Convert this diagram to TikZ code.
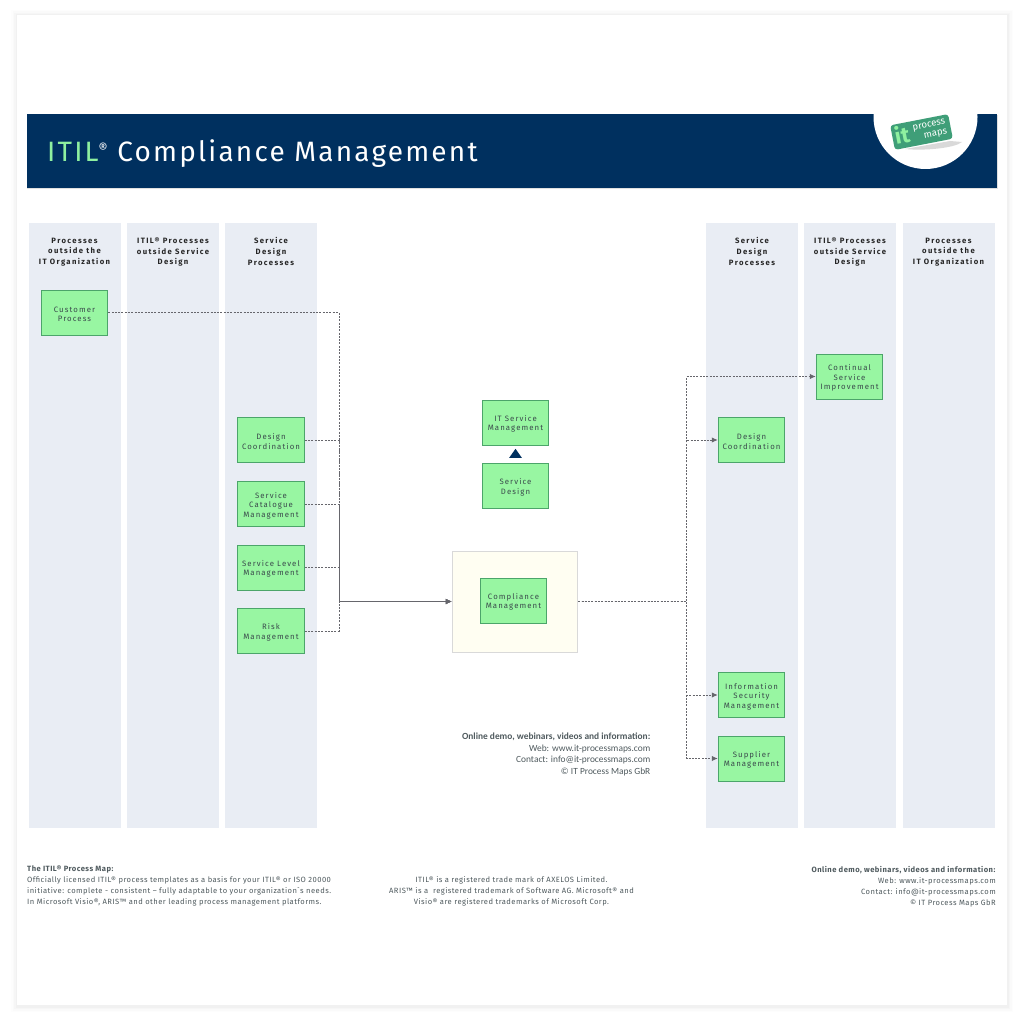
\documentclass[tikz,border=0pt]{standalone}
\usepackage{fontspec}
\setmainfont{Fira Sans}
\newfontfamily\titlef[LetterSpace=7.8]{Fira Sans}
\newfontfamily\bodyf[LetterSpace=14]{Fira Sans}
\newfontfamily\headf[LetterSpace=18]{Fira Sans}
\newfontfamily\footf[LetterSpace=6]{Fira Sans}
\newfontfamily\infof{Carlito}
\usetikzlibrary{arrows.meta,shapes.geometric}
\newcommand{\pdrop}{\rule{0pt}{9pt}}
\definecolor{navy}{HTML}{00305F}
\definecolor{lanec}{HTML}{E9EDF4}
\definecolor{procf}{HTML}{98F6A2}
\definecolor{procd}{HTML}{4CA56A}
\definecolor{textc}{HTML}{3A4A4C}
\definecolor{connc}{HTML}{66666C}
\definecolor{logog}{HTML}{3F9E78}
\definecolor{logot}{HTML}{8FF0A0}
\definecolor{footc}{HTML}{4F5A5E}
\tikzset{
  lane/.style={fill=lanec,draw=none,minimum width=92pt,minimum height=605pt,inner sep=0},
  lanehead/.style={font=\headf\bfseries\fontsize{7.7}{10.6}\selectfont,text=black!85,align=center,inner sep=0,anchor=north},
  proc/.style={rectangle,fill=procf,draw=procd,line width=1pt,minimum width=66.5pt,minimum height=45pt,inner sep=0,
    font=\bodyf\fontsize{7.8}{9.6}\selectfont,text=textc,align=center},
  conn/.style={draw=connc,line width=0.9pt,dash pattern=on 2pt off 1.3pt,-{Latex[length=6pt,width=5.5pt,fill=connc]}},
  foot/.style={font=\footf\fontsize{7.6}{11}\selectfont,text=footc,inner sep=0},
  info/.style={font=\infof\fontsize{9.4}{11.5}\selectfont,text=footc,inner sep=0,align=right,anchor=north east},
}
\begin{document}
\begin{tikzpicture}[x=1pt,y=-1pt]
\useasboundingbox (0,0) rectangle (1024,1024);
\fill[white] (0,0) rectangle (1024,1024);
% page card with soft shadow
\foreach \d/\o in {6/0.008,4.5/0.012,3/0.016,1.5/0.02}{
  \fill[black,opacity=\o] (17-\d,15-\d+1) rectangle (1007+\d,1005+\d+1);
}
\fill[white] (17,15) rectangle (1007,1005);
% banner
\fill[black,opacity=0.12] (27,115) rectangle (998,189);
\fill[navy] (27,114) rectangle (997,188);
\begin{scope}
  \clip (860,114) rectangle (990,188);
  \fill[white] (925.5,117) circle[radius=52];
\end{scope}
\node[anchor=base west,inner sep=0,font=\titlef\fontsize{28}{30}\selectfont,text=white] (title) at (47,162)
  {\textcolor{logot}{ITIL}\raisebox{8pt}{\fontsize{14}{14}\selectfont\textcolor{white}{®}} Compliance Management};
% logo
\fill[black!15] (905,149) -- (950,141) -- (962,142) .. controls (955,148) and (925,151) .. (905,149) -- cycle;
\node[rectangle,rounded corners=3pt,fill=logog,minimum width=59pt,minimum height=25pt,rotate=11,inner sep=0] (logobox) at (921.5,132) {};
\node[inner sep=0,rotate=11,font=\bfseries\fontsize{22}{22}\selectfont,text=logot] (logoit) at (902,135) {it};
\node[inner sep=0,rotate=11,font=\fontsize{9.5}{10}\selectfont,text=white,align=right] (logotxt) at (930,130.5) {process\\maps};
% lanes
\node[lane,anchor=north west] (l1) at (28.5,223) {};
\node[lane,anchor=north west] (l2) at (127,223) {};
\node[lane,anchor=north west] (l3) at (225,223) {};
\node[lane,anchor=north west] (r3) at (705.5,223) {};
\node[lane,anchor=north west] (r2) at (804,223) {};
\node[lane,anchor=north west] (r1) at (902.5,223) {};
\node[lanehead] (h1) at (74.5,237.5) {Processes\\outside the\\IT Organization};
\node[lanehead] (h2) at (173,237.5) {ITIL® Processes\\outside Service\\Design};
\node[lanehead] (h3) at (271,237.5) {Service\\Design\\Processes};
\node[lanehead] (h4) at (752,237.5) {Service\\Design\\Processes};
\node[lanehead] (h5) at (850,237.5) {ITIL® Processes\\outside Service\\Design};
\node[lanehead] (h6) at (948.5,237.5) {Processes\\outside the\\IT Organization};
% centre box
\node[rectangle,fill=yellow!5!white,draw=black!15,line width=1pt,minimum width=125.5pt,minimum height=101pt,inner sep=0] (cbox) at (515,601.5) {};
% process nodes
\node[proc] (cust) at (74.5,312.5) {\pdrop Customer\\Process};
\node[proc] (dc) at (271,440) {\pdrop Design\\Coordination};
\node[proc] (scm) at (271,504) {\pdrop Service\\Catalogue\\Management};
\node[proc] (slm) at (271,567.5) {\pdrop Service Level\\Management};
\node[proc] (risk) at (271,631) {\pdrop Risk\\Management};
\node[proc] (itsm) at (515.5,422.5) {\pdrop IT Service\\Management};
\node[proc] (sd) at (515.5,486) {\pdrop Service\\Design};
\node[proc] (cm) at (513.5,600.5) {\pdrop Compliance\\Management};
\node[proc] (dc2) at (751.5,440) {\pdrop Design\\Coordination};
\node[proc] (ism) at (751.5,695) {\pdrop Information\\Security\\Management};
\node[proc] (sm) at (751.5,758.5) {\pdrop Supplier\\Management};
\node[proc] (csi) at (849.5,376.5) {\pdrop Continual\\Service\\Improvement};
% inheritance triangle
\node[isosceles triangle,isosceles triangle apex angle=70,shape border rotate=90,fill=navy,draw=none,minimum height=9pt,minimum width=11pt,inner sep=0] (tri) at (515.5,454.5) {};
% connectors
\coordinate (busL) at (339,601.5);
\coordinate (busR) at (686.5,601.5);
\draw[conn] (cust.east) -| (busL) -- (cbox.west);
\draw[conn] (dc.east) -| (busL) -- (cbox.west);
\draw[conn] (scm.east) -| (busL) -- (cbox.west);
\draw[conn] (slm.east) -| (busL) -- (cbox.west);
\draw[conn] (risk.east) -| (busL) -- (cbox.west);
\draw[conn] (cbox.east) -- (busR) |- (csi.west);
\draw[conn] (cbox.east) -- (busR) |- (dc2.west);
\draw[conn] (cbox.east) -- (busR) |- (ism.west);
\draw[conn] (cbox.east) -- (busR) |- (sm.west);
% info block
\node[info] (info1) at (650.5,733) {\textbf{Online demo, webinars, videos and information:}\\Web: www.it-processmaps.com\\Contact: info@it-processmaps.com\\© IT Process Maps GbR};
% footers
\node[foot,anchor=north west,align=left] (f1) at (27,866) {\textbf{The ITIL® Process Map:}\\Officially licensed ITIL® process templates as a basis for your ITIL® or ISO 20000\\initiative: complete - consistent – fully adaptable to your organization`s needs.\\In Microsoft Visio®, ARIS™ and other leading process management platforms.};
\node[foot,anchor=north,align=center] (f2) at (511.5,876.5) {ITIL® is a registered trade mark of AXELOS Limited.\\ARIS™ is a\ \ registered trademark of Software AG. Microsoft® and\\Visio® are registered trademarks of Microsoft Corp.};
\node[foot,anchor=north east,align=right] (f3) at (996,866) {\textbf{Online demo, webinars, videos and information:}\\Web: www.it-processmaps.com\\Contact: info@it-processmaps.com\\© IT Process Maps GbR};
\end{tikzpicture}
\end{document}
